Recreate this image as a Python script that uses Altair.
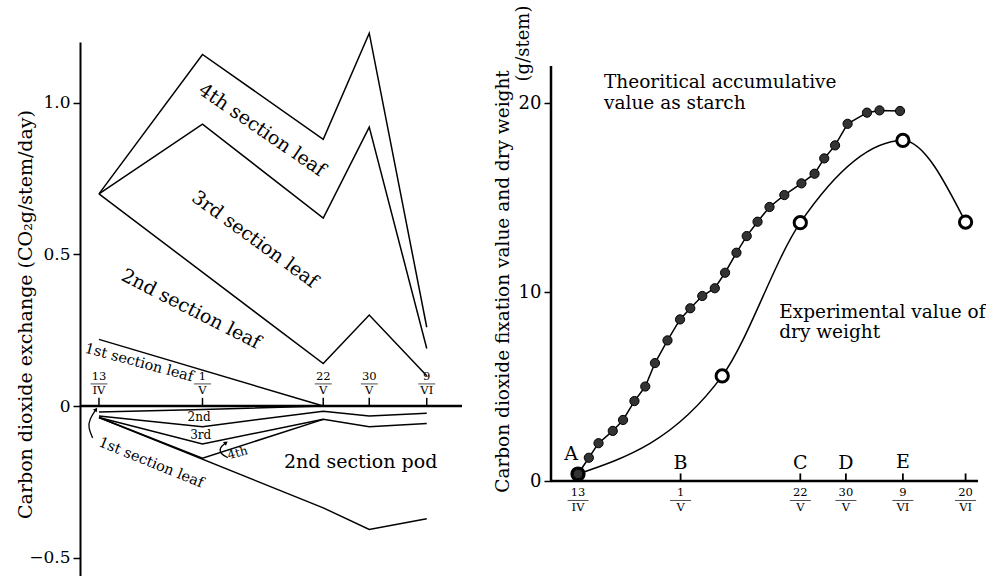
import altair as alt
import pandas as pd

SERIF = "DejaVu Serif"

# ---------------- Left panel (days counted from 13 April) ----------------
L_DOMAIN_X = [-3.3, 63.13]
L_DOMAIN_Y = [-0.564, 1.201]

l_tick_days = [0, 18, 39, 47, 57]
l_tick_num = ["13", "1", "22", "30", "9"]
l_tick_den = ["IV", "V", "V", "V", "VI"]

leaf4_days = [0, 18, 39, 47, 57]
leaf4_vals = [0.70, 1.16, 0.88, 1.23, 0.26]
leaf3_days = [0, 18, 39, 47, 57]
leaf3_vals = [0.70, 0.93, 0.62, 0.92, 0.19]
leaf2_days = [0, 39, 47, 57]
leaf2_vals = [0.70, 0.14, 0.30, 0.10]
leaf1_days = [0, 39]
leaf1_vals = [0.22, 0.0]

resp1_days = [0, 18, 39]
resp1_vals = [-0.02, -0.011, 0.0]
resp2_days = [0, 18, 39, 47, 57]
resp2_vals = [-0.033, -0.068, -0.017, -0.033, -0.024]
resp3_days = [0, 18, 39, 47, 57]
resp3_vals = [-0.038, -0.125, -0.044, -0.068, -0.058]
resp4_days = [0, 18, 39]
resp4_vals = [-0.038, -0.172, -0.044]
pod_days = [0, 39, 47, 57]
pod_vals = [-0.038, -0.336, -0.407, -0.372]

big_text = ["4th section leaf", "3rd section leaf", "2nd section leaf", "2nd section pod"]
big_day = [28.35, 27.1, 16.0, 45.5]
big_val = [0.911, 0.55, 0.32, -0.184]
big_angle = [34.5, 36, 27, 0]

mid_text = ["1st section leaf", "1st section leaf"]
mid_day = [6.96, 9.04]
mid_val = [0.142, -0.188]
mid_angle = [15, 22]

small_text = ["2nd", "3rd", "4th"]
small_day = [17.4, 17.7, 24.1]
small_val = [-0.036, -0.096, -0.154]
small_angle = [0, 0, 345]

arrow1_days = [-0.52, -1.69, -1.86, -1.1]
arrow1_vals = [-0.011, -0.044, -0.072, -0.105]
arrow2_days = [22.1, 20.9, 21.2, 22.4]
arrow2_vals = [-0.121, -0.138, -0.159, -0.17]
head_days = [-0.52, 22.1]
head_vals = [-0.011, -0.121]
head_angle = [34, 53]

# ---------------- Right panel ----------------
R_DOMAIN_X = [-4.74, 70.18]
R_DOMAIN_Y = [0, 23.23]
R_AXIS_TOP = 21.96

r_tick_days = [0, 18, 39, 47, 57, 68]
r_tick_num = ["13", "1", "22", "30", "9", "20"]
r_tick_den = ["IV", "V", "V", "V", "VI", "VI"]

letters = ["A", "B", "C", "D", "E"]
letter_days = [-1.2, 18, 39, 47, 57]
letter_vals = [1.43, 0.97, 0.97, 0.97, 1.0]

theo_days = [0, 1.9, 3.6, 6.1, 7.9, 9.9, 11.8, 13.5, 15.7, 17.9, 19.7, 21.8, 24.0,
             25.8, 27.8, 29.6, 31.5, 33.6, 36.2, 39.2, 41.5, 43.2, 45.1, 47.3,
             50.7, 52.9, 56.5]
theo_vals = [0.37, 1.23, 2.0, 2.65, 3.23, 4.23, 5.0, 6.24, 7.44, 8.55, 9.14, 9.79,
             10.2, 11.02, 12.08, 12.96, 13.72, 14.5, 15.13, 15.75, 16.26, 17.07,
             17.76, 18.9, 19.49, 19.61, 19.58]
exp_days = [0, 25.3, 39, 57, 68]
exp_vals = [0.37, 5.56, 13.67, 18.02, 13.7]

r_text = ["Theoritical accumulative", "value as starch", "Experimental value of", "dry weight"]
r_text_day = [4.56, 4.56, 35.3, 35.3]
r_text_val = [20.79, 19.70, 8.64, 7.55]


def series(name, days, vals):
    return pd.DataFrame({"day": days, "val": vals, "s": name, "i": range(len(days))})


# ---------------- Build left ----------------
lxs = alt.Scale(domain=L_DOMAIN_X, nice=False, zero=False)
lys = alt.Scale(domain=L_DOMAIN_Y, nice=False, zero=False)
ly_axis = alt.Axis(values=[-0.5, 0, 0.5, 1.0],
                   labelExpr="datum.value == 0 ? '0' : format(datum.value, '.1f')",
                   tickSize=7, tickWidth=1.5, domainWidth=2, labelFontSize=17,
                   labelFont=SERIF, titleFont=SERIF,
                   labelPadding=3, grid=False,
                   title="Carbon dioxide exchange (CO₂g/stem/day)",
                   titleFontSize=19, titleX=-49, titleY=272, titleAngle=270,
                   titleBaseline="alphabetic", titleFontWeight="normal")


def LX(f="day"):
    return alt.X(f"{f}:Q", scale=lxs, axis=None)


def LY(f="val"):
    return alt.Y(f"{f}:Q", scale=lys, axis=ly_axis)


left_lines = pd.concat([
    series("leaf4", leaf4_days, leaf4_vals),
    series("leaf3", leaf3_days, leaf3_vals),
    series("leaf2", leaf2_days, leaf2_vals),
    series("leaf1", leaf1_days, leaf1_vals),
    series("resp1", resp1_days, resp1_vals),
    series("resp2", resp2_days, resp2_vals),
    series("resp3", resp3_days, resp3_vals),
    series("resp4", resp4_days, resp4_vals),
    series("pod", pod_days, pod_vals),
])
arrows = pd.concat([series("a1", arrow1_days, arrow1_vals), series("a2", arrow2_days, arrow2_vals)])

l_axis_df = pd.DataFrame({"day": [L_DOMAIN_X[0]], "day2": [L_DOMAIN_X[1]], "val": [0.0]})
l_ticks_df = pd.DataFrame({"day": l_tick_days, "val": 0.0, "val2": 0.027,
                           "num": l_tick_num, "den": l_tick_den,
                           "ny": 0.095, "by": 0.073, "dy": 0.050})

l_layers = [
    alt.Chart(left_lines).mark_line(color="black", strokeWidth=1.5).encode(
        x=LX(), y=LY(), detail="s:N", order="i:Q"),
    alt.Chart(arrows).mark_line(color="black", strokeWidth=1.3, interpolate="basis").encode(
        x=LX(), y=LY(), detail="s:N", order="i:Q"),
    alt.Chart(pd.DataFrame({"day": head_days, "val": head_vals, "a": head_angle}))
       .mark_point(shape="triangle-up", size=22, filled=True, color="black", opacity=1).encode(
        x=LX(), y=LY(), angle=alt.Angle("a:Q", scale=None)),
    alt.Chart(l_axis_df).mark_rule(color="black", strokeWidth=2.5).encode(x=LX(), x2="day2:Q", y=LY()),
    alt.Chart(l_ticks_df).mark_rule(color="black", strokeWidth=1.5).encode(x=LX(), y=LY(), y2="val2:Q"),
    alt.Chart(l_ticks_df).mark_text(fontSize=11.5, baseline="middle").encode(
        x=LX(), y=LY("ny"), text="num:N"),
    alt.Chart(l_ticks_df).mark_text(fontSize=11.5, baseline="middle").encode(
        x=LX(), y=LY("dy"), text="den:N"),
    alt.Chart(l_ticks_df).mark_tick(orient="horizontal", size=17, thickness=1, color="black").encode(
        x=LX(), y=LY("by")),
    alt.Chart(pd.DataFrame({"day": big_day, "val": big_val, "t": big_text, "a": big_angle}))
       .mark_text(fontSize=19, align="center", baseline="middle").encode(
        x=LX(), y=LY(), text="t:N", angle=alt.Angle("a:Q", scale=None)),
    alt.Chart(pd.DataFrame({"day": mid_day, "val": mid_val, "t": mid_text, "a": mid_angle}))
       .mark_text(fontSize=14.5, align="center", baseline="middle").encode(
        x=LX(), y=LY(), text="t:N", angle=alt.Angle("a:Q", scale=None)),
    alt.Chart(pd.DataFrame({"day": small_day, "val": small_val, "t": small_text, "a": small_angle}))
       .mark_text(fontSize=12, align="center", baseline="middle").encode(
        x=LX(), y=LY(), text="t:N", angle=alt.Angle("a:Q", scale=None)),
]
left = alt.layer(*l_layers).properties(width=382, height=535)

# ---------------- Build right ----------------
rxs = alt.Scale(domain=R_DOMAIN_X, nice=False, zero=False)
rys = alt.Scale(domain=R_DOMAIN_Y, nice=False, zero=False)
ry_axis = alt.Axis(values=[0, 10, 20], domain=False, tickSize=7, tickWidth=1.5,
                   labelFontSize=18, labelPadding=3, grid=False,
                   labelFont=SERIF, titleFont=SERIF,
                   title="Carbon dioxide fixation value and dry weight",
                   titleFontSize=18.5, titleX=-43, titleY=239, titleAngle=270,
                   titleBaseline="alphabetic", titleFontWeight="normal")


def RX(f="day"):
    return alt.X(f"{f}:Q", scale=rxs, axis=None)


def RY(f="val"):
    return alt.Y(f"{f}:Q", scale=rys, axis=ry_axis)


theo = series("theo", theo_days, theo_vals)
expd = series("exp", exp_days, exp_vals)
r_ticks_df = pd.DataFrame({"day": r_tick_days, "val": 0.0, "val2": 0.4,
                           "num": r_tick_num, "den": r_tick_den,
                           "ny": -0.66, "by": -1.03, "dy": -1.42})
r_xaxis_df = pd.DataFrame({"day": [R_DOMAIN_X[0]], "day2": [R_DOMAIN_X[1]], "val": [0.0]})
r_yaxis_df = pd.DataFrame({"day": [R_DOMAIN_X[0]], "val": [0.0], "val2": [R_AXIS_TOP]})

r_layers = [
    alt.Chart(theo).mark_line(color="black", strokeWidth=1.5).encode(x=RX(), y=RY(), order="i:Q"),
    alt.Chart(expd).mark_line(color="black", strokeWidth=1.5, interpolate="monotone").encode(
        x=RX(), y=RY()),
    alt.Chart(r_xaxis_df).mark_rule(color="black", strokeWidth=2.5).encode(x=RX(), x2="day2:Q", y=RY()),
    alt.Chart(r_yaxis_df).mark_rule(color="black", strokeWidth=2.5).encode(x=RX(), y=RY(), y2="val2:Q"),
    alt.Chart(r_ticks_df).mark_rule(color="black", strokeWidth=1.8).encode(x=RX(), y=RY(), y2="val2:Q"),
    alt.Chart(r_ticks_df).mark_text(fontSize=11.5, baseline="middle").encode(
        x=RX(), y=RY("ny"), text="num:N"),
    alt.Chart(r_ticks_df).mark_text(fontSize=11.5, baseline="middle").encode(
        x=RX(), y=RY("dy"), text="den:N"),
    alt.Chart(r_ticks_df).mark_tick(orient="horizontal", size=21, thickness=1, color="black").encode(
        x=RX(), y=RY("by")),
    alt.Chart(expd).mark_point(shape="circle", size=150, filled=False, fill="white",
                               stroke="black", strokeWidth=3, opacity=1).encode(x=RX(), y=RY()),
    alt.Chart(theo).mark_point(shape="circle", size=85, filled=True, fill="#333333",
                               stroke="black", strokeWidth=1, opacity=1).encode(x=RX(), y=RY()),
    alt.Chart(pd.DataFrame({"day": letter_days, "val": letter_vals, "t": letters}))
       .mark_text(fontSize=19, baseline="middle").encode(x=RX(), y=RY(), text="t:N"),
    alt.Chart(pd.DataFrame({"day": r_text_day, "val": r_text_val, "t": r_text}))
       .mark_text(fontSize=18.5, align="left", baseline="alphabetic").encode(
        x=RX(), y=RY(), text="t:N"),
    alt.Chart(pd.DataFrame({"day": [-8.6], "val": [23.15], "t": ["(g/stem)"]}))
       .mark_text(fontSize=18, align="center", baseline="alphabetic", angle=270).encode(
        x=RX(), y=RY(), text="t:N"),
]
right = alt.layer(*r_layers).properties(width=427, height=439)

chart = alt.hconcat(left, right, spacing=89, bounds="flush").properties(
    padding={"left": 15, "top": 5, "right": 0, "bottom": 0}
).configure(font=SERIF).configure_view(stroke=None).configure_axis(
    labelColor="black", titleColor="black", tickColor="black", domainColor="black",
    labelFont=SERIF, titleFont=SERIF
).configure_text(color="black", font=SERIF)

chart.save("out.html", embed_options={"renderer": "svg", "actions": False})
